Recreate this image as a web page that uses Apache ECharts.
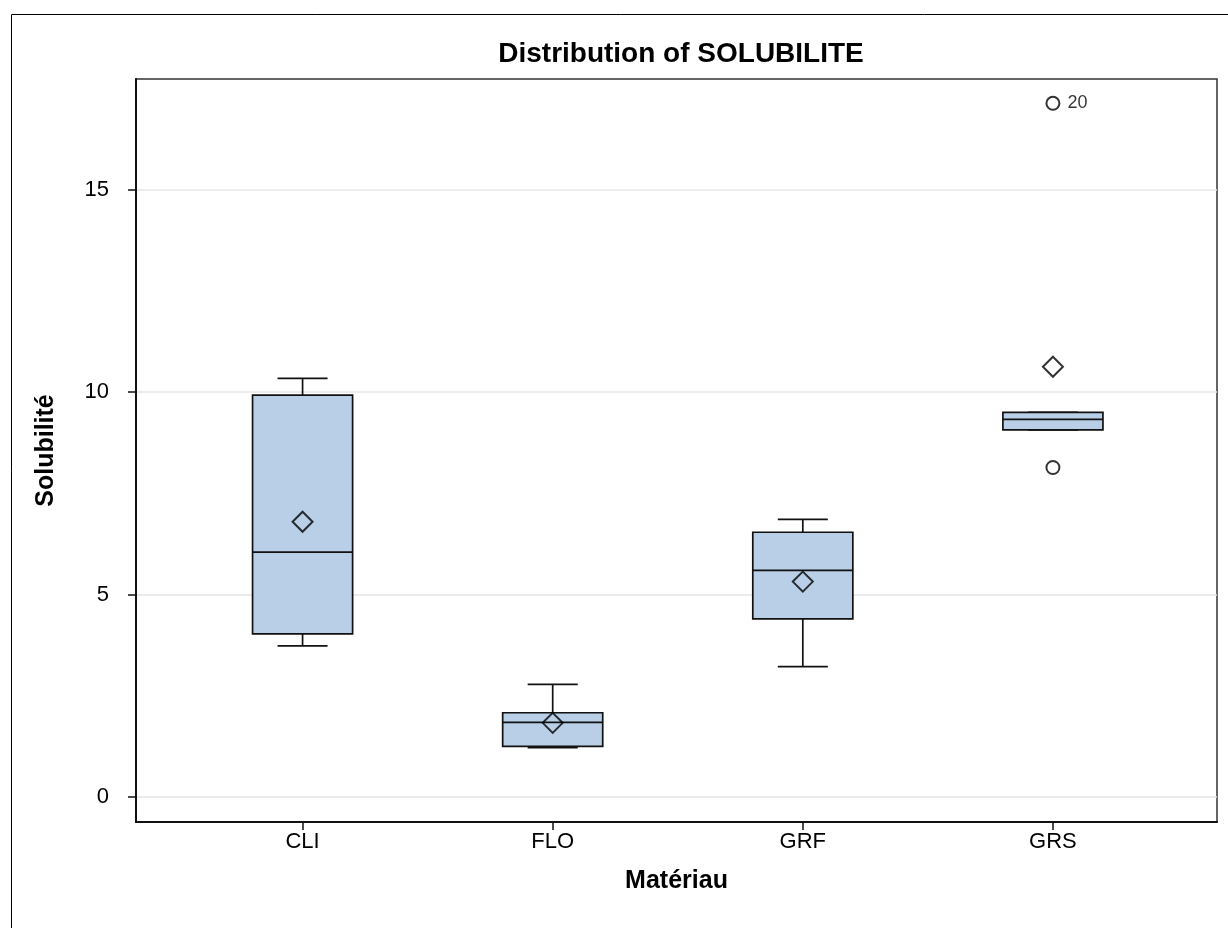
<!DOCTYPE html>
<html>
<head>
<meta charset="utf-8">
<script src="https://cdn.jsdelivr.net/npm/echarts@6/dist/echarts.min.js"></script>
<style>
html,body{margin:0;padding:0;background:#fff;}
#chart{width:1228px;height:928px;}
</style>
</head>
<body>
<div id="chart"></div>
<script>
// ---- data ----
const categories = ['CLI', 'FLO', 'GRF', 'GRS'];
const whiskerLow  = [3.73, 1.22, 3.22, 9.07];
const q1          = [4.03, 1.25, 4.40, 9.07];
const median      = [6.05, 1.84, 5.60, 9.33];
const q3          = [9.93, 2.08, 6.54, 9.50];
const whiskerHigh = [10.34, 2.78, 6.86, 9.50];
const means       = [6.80, 1.83, 5.32, 10.63];
const outlierCat   = [3, 3];
const outlierVal   = [17.14, 8.14];
const outlierLabel = ['20', ''];
const yTicks = [0, 5, 10, 15];
const xTicks = [0, 1, 2, 3];

const FONT = '"Liberation Sans", Arial, Helvetica, sans-serif';
const INK = '#111';

const boxData = categories.map((c, i) => [i, whiskerLow[i], q1[i], median[i], q3[i], whiskerHigh[i]]);
const meanData = categories.map((c, i) => [i, means[i]]);
const outData = outlierCat.map((c, i) => ({ value: [c, outlierVal[i]], name: outlierLabel[i] }));

function renderBox(params, api) {
  const x = api.value(0);
  const lo = api.value(1), b1 = api.value(2), md = api.value(3), b3 = api.value(4), hi = api.value(5);
  const half = 0.2, cap = 0.1;
  const tl = api.coord([x - half, b3]);
  const br = api.coord([x + half, b1]);
  const cx = api.coord([x, md])[0];
  const yMed = api.coord([x, md])[1];
  const yLo = api.coord([x, lo])[1];
  const yHi = api.coord([x, hi])[1];
  const capL = api.coord([x - cap, lo])[0];
  const capR = api.coord([x + cap, lo])[0];
  const ls = { stroke: INK, lineWidth: 1.7 };
  return {
    type: 'group',
    children: [
      { type: 'line', shape: { x1: cx, y1: tl[1], x2: cx, y2: yHi }, style: ls },
      { type: 'line', shape: { x1: cx, y1: br[1], x2: cx, y2: yLo }, style: ls },
      { type: 'line', shape: { x1: capL, y1: yHi, x2: capR, y2: yHi }, style: ls },
      { type: 'line', shape: { x1: capL, y1: yLo, x2: capR, y2: yLo }, style: ls },
      { type: 'rect', shape: { x: tl[0], y: tl[1], width: br[0] - tl[0], height: br[1] - tl[1] },
        style: { fill: '#b9cfe8', stroke: INK, lineWidth: 1.7 } },
      { type: 'line', shape: { x1: tl[0], y1: yMed, x2: br[0], y2: yMed }, style: ls }
    ]
  };
}

const chart = echarts.init(document.getElementById('chart'), null, { renderer: 'canvas' });
chart.setOption({
  backgroundColor: '#fff',
  animation: false,
  title: {
    text: 'Distribution of SOLUBILITE',
    left: 676, top: 35, textAlign: 'center',
    textStyle: { fontFamily: FONT, fontSize: 28, fontWeight: 'bold', color: '#000' }
  },
  graphic: [
    { type: 'rect', left: 9, top: 12, shape: { width: 1300, height: 1000 },
      style: { fill: null, stroke: '#000', lineWidth: 1 }, silent: true }
  ],
  grid: { left: 136, right: 11, top: 79, bottom: 106, show: true, borderColor: '#333', borderWidth: 1.5, backgroundColor: '#fff' },
  xAxis: {
    type: 'value', min: -0.666, max: 3.656,
    name: 'Matériau', nameLocation: 'middle', nameGap: 47,
    nameTextStyle: { fontFamily: FONT, fontSize: 25, fontWeight: 'bold', color: '#000' },
    axisLine: { show: true, onZero: false, lineStyle: { color: INK, width: 2 } },
    axisTick: { show: true, customValues: xTicks, length: 8, lineStyle: { color: INK, width: 1.5 } },
    axisLabel: { customValues: xTicks, margin: 9, formatter: v => categories[Math.round(v)] || '',
      fontFamily: FONT, fontSize: 22, color: '#000' },
    splitLine: { show: false }
  },
  yAxis: {
    type: 'value', min: -0.62, max: 17.74, splitNumber: 3,
    name: 'Solubilité', nameLocation: 'middle', nameGap: 77, nameRotate: 90,
    nameTextStyle: { fontFamily: FONT, fontSize: 25, fontWeight: 'bold', color: '#000' },
    axisLine: { show: true, onZero: false, lineStyle: { color: INK, width: 2 } },
    axisTick: { show: true, customValues: yTicks, length: 8, lineStyle: { color: INK, width: 1.5 } },
    axisLabel: { customValues: yTicks, margin: 27, fontFamily: FONT, fontSize: 22, color: '#000' },
    splitLine: { show: true, lineStyle: { color: '#e6e6e6', width: 1.5 } }
  },
  series: [
    { type: 'custom', renderItem: renderBox, data: boxData, encode: { x: 0, y: [1, 2, 3, 4, 5] }, z: 2 },
    { type: 'scatter', data: meanData, symbol: 'diamond', symbolSize: 20, z: 3,
      itemStyle: { color: 'rgba(0,0,0,0)', borderColor: '#000', borderWidth: 2 } },
    { type: 'scatter', data: outData, symbol: 'circle', symbolSize: 13, z: 3,
      itemStyle: { color: 'rgba(0,0,0,0)', borderColor: '#000', borderWidth: 2 },
      label: { show: true, position: 'right', distance: 7, formatter: p => p.name,
        fontFamily: FONT, fontSize: 18, color: '#000' } }
  ]
});
</script>
</body>
</html>
